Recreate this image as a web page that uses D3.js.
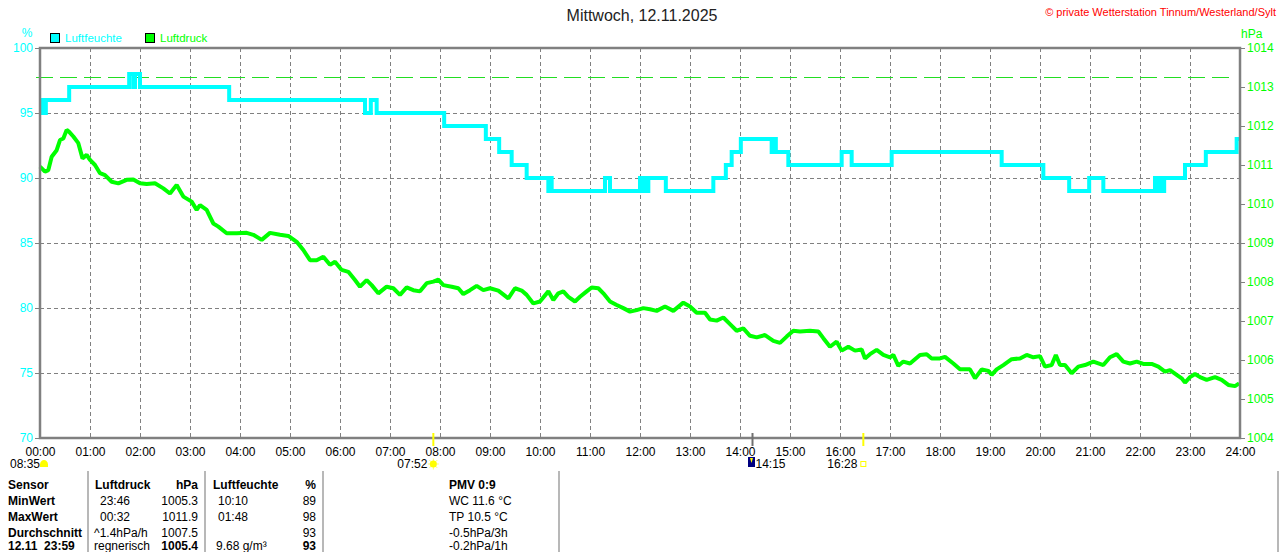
<!DOCTYPE html>
<html>
<head>
<meta charset="utf-8">
<script src="https://cdn.jsdelivr.net/npm/d3@7"></script>
<style>
  body { margin: 0; background: #fff; }
  svg { display: block; font-family: "Liberation Sans", Arial, sans-serif; }
</style>
</head>
<body>
<svg id="drawing_region"></svg>
<script>
// x ticks (hours)
const hourLabels = ["00:00","01:00","02:00","03:00","04:00","05:00","06:00","07:00","08:00","09:00","10:00","11:00","12:00",
                    "13:00","14:00","15:00","16:00","17:00","18:00","19:00","20:00","21:00","22:00","23:00","24:00"];
const humTicks = [70, 75, 80, 85, 90, 95, 100];
const presTicks = [1004, 1005, 1006, 1007, 1008, 1009, 1010, 1011, 1012, 1013, 1014];
const stdPressure = 1013.25;

// Luftfeuchte (%), minutes after midnight where the value changes
const humMinutes = [0, 2, 5, 7, 35, 107, 112, 114, 120, 227, 390, 397, 404, 485, 535, 551, 566, 584, 610, 612, 614,
                    678, 684, 720, 722, 725, 727, 730, 751, 808, 823, 830, 841, 878, 881, 883, 898, 962, 974, 1022,
                    1154, 1204, 1235, 1259, 1276, 1338, 1340, 1344, 1346, 1349, 1374, 1399, 1436, 1440];
const humValues  = [95, 96, 95, 96, 97, 98, 97, 98, 97, 96, 95, 96, 95, 94, 93, 92, 91, 90, 89, 90, 89,
                    90, 89, 90, 89, 90, 89, 90, 89, 90, 91, 92, 93, 92, 93, 92, 91, 92, 91, 92,
                    91, 90, 89, 90, 89, 90, 89, 90, 89, 90, 91, 92, 93, 93];

// Luftdruck (hPa)
const presMinutes = [0, 6, 10, 14, 20, 24, 28, 32, 35, 40, 46, 51, 56, 60, 66, 72, 78, 86, 94, 104, 112, 120, 128, 138,
                     148, 156, 164, 172, 182, 188, 192, 200, 208, 214, 224, 236, 248, 256, 266, 276, 288, 298, 308,
                     316, 324, 332, 340, 348, 354, 362, 370, 378, 384, 392, 398, 406, 416, 424, 432, 440, 448, 456,
                     464, 472, 478, 484, 494, 502, 508, 516, 524, 532, 540, 550, 562, 570, 578, 584, 592, 600, 610,
                     616, 622, 628, 634, 642, 648, 656, 662, 670, 676, 684, 692, 700, 708, 716, 724, 732, 740, 750,
                     760, 772, 780, 788, 798, 804, 812, 820, 828, 836, 844, 852, 860, 870, 880, 888, 896, 904, 912,
                     924, 934, 940, 948, 956, 962, 970, 978, 986, 990, 996, 1004, 1012, 1020, 1024, 1030, 1036, 1044,
                     1050, 1056, 1064, 1070, 1080, 1086, 1096, 1104, 1116, 1122, 1130, 1138, 1142, 1148, 1156, 1166,
                     1176, 1184, 1192, 1200, 1206, 1214, 1219, 1224, 1230, 1238, 1246, 1254, 1264, 1276, 1284, 1292,
                     1300, 1308, 1316, 1324, 1334, 1342, 1350, 1356, 1364, 1370, 1374, 1380, 1386, 1392, 1400, 1410,
                     1418, 1426, 1434, 1439];
const presValues  = [1010.96, 1010.83, 1010.87, 1011.21, 1011.38, 1011.64, 1011.68, 1011.9, 1011.85, 1011.73, 1011.56,
                     1011.17, 1011.26, 1011.13, 1011.0, 1010.79, 1010.74, 1010.57, 1010.53, 1010.62, 1010.63, 1010.53,
                     1010.51, 1010.53, 1010.40, 1010.27, 1010.49, 1010.19, 1010.06, 1009.85, 1009.97, 1009.85, 1009.50,
                     1009.42, 1009.25, 1009.25, 1009.26, 1009.21, 1009.08, 1009.26, 1009.21, 1009.18, 1009.03, 1008.82,
                     1008.56, 1008.56, 1008.65, 1008.44, 1008.52, 1008.31, 1008.26, 1008.05, 1007.88, 1008.05, 1007.92,
                     1007.71, 1007.88, 1007.84, 1007.67, 1007.86, 1007.79, 1007.76, 1007.97, 1008.01, 1008.06, 1007.92,
                     1007.88, 1007.84, 1007.69, 1007.79, 1007.90, 1007.79, 1007.84, 1007.78, 1007.58, 1007.84, 1007.78,
                     1007.67, 1007.45, 1007.50, 1007.76, 1007.54, 1007.71, 1007.76, 1007.62, 1007.50, 1007.62, 1007.76,
                     1007.86, 1007.84, 1007.71, 1007.50, 1007.41, 1007.33, 1007.24, 1007.28, 1007.33, 1007.30, 1007.26,
                     1007.37, 1007.26, 1007.47, 1007.37, 1007.21, 1007.21, 1007.04, 1007.01, 1007.09, 1006.92, 1006.75,
                     1006.81, 1006.62, 1006.58, 1006.64, 1006.49, 1006.44, 1006.60, 1006.75, 1006.73, 1006.75, 1006.73,
                     1006.56, 1006.34, 1006.47, 1006.24, 1006.34, 1006.24, 1006.27, 1006.04, 1006.15, 1006.26, 1006.13,
                     1006.07, 1006.13, 1005.85, 1005.96, 1005.91, 1006.02, 1006.13, 1006.15, 1006.04, 1006.04, 1006.08,
                     1005.91, 1005.76, 1005.76, 1005.53, 1005.76, 1005.72, 1005.62, 1005.76, 1005.87, 1006.02, 1006.04,
                     1006.13, 1006.07, 1006.10, 1005.83, 1005.87, 1006.13, 1005.87, 1005.87, 1005.66, 1005.83, 1005.87,
                     1005.96, 1005.87, 1006.07, 1006.15, 1005.96, 1005.91, 1005.96, 1005.90, 1005.90, 1005.83, 1005.70,
                     1005.74, 1005.62, 1005.53, 1005.42, 1005.56, 1005.64, 1005.56, 1005.49, 1005.56, 1005.49, 1005.36,
                     1005.33, 1005.40];

// markers below the time axis
const eventLabels  = ["07:52", "14:15", "16:28"];
const eventMinutes = [472, 855, 988];
const eventKinds   = ["sunrise", "now", "sunset"];

// table below the chart
const tableHeader = ["Sensor", "Luftdruck", "hPa", "Luftfeuchte", "%", "PMV 0:9"];
const rowNames    = ["MinWert", "MaxWert", "Durchschnitt", "12.11  23:59"];
const presCol1    = [" 23:46", " 00:32", "^1.4hPa/h", "regnerisch"];
const presCol2    = ["1005.3", "1011.9", "1007.5", "1005.4"];
const humCol1     = [" 10:10", " 01:48", "", "9.68 g/m\u00b3"];
const humCol2     = ["89", "98", "93", "93"];
const extraCol    = ["WC 11.6 \u00b0C", "TP 10.5 \u00b0C", "-0.5hPa/3h", "-0.2hPa/1h"];

class WeatherChart {
    constructor(config) {
        this.config = config;
        this.init();
    }

    init() {
        let self = this;
        const c = self.config;
        self.svg = d3.select(c.parent).attr('width', c.width).attr('height', c.height);

        self.xScale = d3.scaleLinear().domain([0, 1440]).range([c.left, c.right]);
        self.yHum = d3.scaleLinear().domain([70, 100]).range([c.bottom, c.top]);
        self.yPres = d3.scaleLinear().domain([1004, 1014]).range([c.bottom, c.top]);
    }

    render() {
        let self = this;
        const c = self.config;
        const svg = self.svg;
        const gray = '#808080';

        // title & credit
        svg.append('text').attr('x', 642).attr('y', 21).attr('text-anchor', 'middle')
            .style('font-size', '16px').attr('fill', '#222').text('Mittwoch, 12.11.2025');
        svg.append('text').attr('x', 1276).attr('y', 16).attr('text-anchor', 'end')
            .style('font-size', '11px').attr('fill', '#ff0000')
            .text('\u00a9 private Wetterstation Tinnum/Westerland/Sylt');

        // units
        svg.append('text').attr('x', 27).attr('y', 37).attr('text-anchor', 'middle')
            .style('font-size', '12px').attr('fill', '#00ffff').text('%');
        svg.append('text').attr('x', 1241).attr('y', 38)
            .style('font-size', '12px').attr('fill', '#00ff00').text('hPa');

        // legend
        const legend = [{name: 'Luftfeuchte', color: '#00ffff', x: 50}, {name: 'Luftdruck', color: '#00ff00', x: 145}];
        legend.forEach(d => {
            svg.append('rect').attr('x', d.x + 0.5).attr('y', 33.5).attr('width', 9).attr('height', 9)
                .attr('fill', d.color).attr('stroke', '#000');
            svg.append('text').attr('x', d.x + 15).attr('y', 42).style('font-size', '11.5px')
                .attr('fill', d.color).text(d.name);
        });

        // grid
        const grid = svg.append('g');
        grid.selectAll('line.v').data(d3.range(1, hourLabels.length - 1)).join('line')
            .attr('x1', i => self.xScale(i * 60)).attr('x2', i => self.xScale(i * 60))
            .attr('y1', c.top).attr('y2', c.bottom);
        grid.selectAll('line.h').data(humTicks.slice(1, -1)).join('line')
            .attr('x1', c.left).attr('x2', c.right)
            .attr('y1', d => self.yHum(d)).attr('y2', d => self.yHum(d));
        grid.selectAll('line').attr('stroke', gray).attr('stroke-width', 1).attr('stroke-dasharray', '4,3')
            .attr('shape-rendering', 'crispEdges');

        // standard pressure reference
        const yStd = Math.round(self.yPres(stdPressure)) + 0.5;
        svg.append('line').attr('x1', 36).attr('x2', 1236)
            .attr('y1', yStd).attr('y2', yStd)
            .attr('stroke', '#22dd22').attr('stroke-width', 1).attr('stroke-dasharray', '17,7')
            .attr('shape-rendering', 'crispEdges');

        // humidity (step line)
        const humLine = d3.line()
            .x((d, i) => self.xScale(humMinutes[i]))
            .y(d => self.yHum(d))
            .curve(d3.curveStepAfter);
        svg.append('path').attr('d', humLine(humValues)).attr('fill', 'none')
            .attr('stroke', '#00ffff').attr('stroke-width', 4);

        // pressure
        const presLine = d3.line()
            .x((d, i) => self.xScale(presMinutes[i]))
            .y(d => self.yPres(d));
        svg.append('path').attr('d', presLine(presValues)).attr('fill', 'none')
            .attr('stroke', '#00ff00').attr('stroke-width', 4).attr('stroke-linejoin', 'bevel');

        // axes
        const leftAxis = svg.append('g').attr('transform', `translate(${c.left},0)`)
            .call(d3.axisLeft(self.yHum).tickValues(humTicks).tickSize(5).tickPadding(2));
        leftAxis.selectAll('text').attr('fill', '#00ffff').style('font-size', '12px');

        const rightAxis = svg.append('g').attr('transform', `translate(${c.right},0)`)
            .call(d3.axisRight(self.yPres).tickValues(presTicks).tickFormat(d3.format('d')).tickSize(5).tickPadding(2));
        rightAxis.selectAll('text').attr('fill', '#00ff00').style('font-size', '12px');

        const bottomAxis = svg.append('g').attr('transform', `translate(0,${c.bottom})`)
            .call(d3.axisBottom(self.xScale).tickValues(d3.range(hourLabels.length).map(i => i * 60))
                .tickFormat((d, i) => hourLabels[i]).tickSize(0).tickPadding(9));
        bottomAxis.selectAll('text').attr('fill', '#000').style('font-size', '12px');

        [leftAxis, rightAxis, bottomAxis].forEach(a => {
            a.select('.domain').remove();
            a.selectAll('.tick line').attr('stroke', gray);
        });

        // frame
        svg.append('rect').attr('x', c.left).attr('y', c.top)
            .attr('width', c.right - c.left).attr('height', c.bottom - c.top)
            .attr('fill', 'none').attr('stroke', gray).attr('stroke-width', 2.5);

        // event markers
        eventMinutes.forEach((m, i) => {
            const x = self.xScale(m);
            const kind = eventKinds[i];
            svg.append('line').attr('x1', x).attr('x2', x).attr('y1', c.bottom - 5).attr('y2', c.bottom + 8)
                .attr('stroke', kind === 'now' ? '#707070' : '#ffff00').attr('stroke-width', 2);
            if (kind === 'sunrise') {
                svg.append('text').attr('x', x - 6).attr('y', 468).attr('text-anchor', 'end')
                    .style('font-size', '12px').text(eventLabels[i]);
                const sun = svg.append('g').attr('transform', `translate(${x},464)`);
                d3.range(8).forEach(k => {
                    const a = k * Math.PI / 4;
                    sun.append('line').attr('x1', Math.cos(a) * 3).attr('y1', Math.sin(a) * 3)
                        .attr('x2', Math.cos(a) * 5.5).attr('y2', Math.sin(a) * 5.5)
                        .attr('stroke', '#ffff66').attr('stroke-width', 1);
                });
                sun.append('circle').attr('r', 3.5).attr('fill', '#ffff00');
            } else if (kind === 'now') {
                svg.append('rect').attr('x', x - 4.5).attr('y', 457).attr('width', 7).attr('height', 10)
                    .attr('fill', '#000080');
                svg.append('path').attr('d', `M${x - 2.5},458 L${x + 0.5},458 L${x - 1},463 Z`).attr('fill', '#ffff00');
                svg.append('text').attr('x', x + 3).attr('y', 468)
                    .style('font-size', '12px').text(eventLabels[i]);
            } else {
                svg.append('text').attr('x', x - 6).attr('y', 468).attr('text-anchor', 'end')
                    .style('font-size', '12px').text(eventLabels[i]);
                svg.append('rect').attr('x', x - 2.5).attr('y', 461.5).attr('width', 5).attr('height', 5)
                    .attr('fill', 'none').attr('stroke', '#ffff00');
            }
        });

        // 08:35 with cloud
        svg.append('text').attr('x', 10).attr('y', 468).style('font-size', '12px').text('08:35');
        svg.append('path').attr('d', 'M40,467 L40,464 Q41,460 44,460 Q47,460 48,464 L48,467 Z').attr('fill', '#ffff00');

        // table
        self.renderTable();
    }

    renderTable() {
        let self = this;
        const svg = self.svg;
        const rowY = [489, 505, 521, 537, 550];

        [88, 205, 323, 559, 1278].forEach(x => {
            svg.append('line').attr('x1', x).attr('x2', x).attr('y1', 471).attr('y2', 552)
                .attr('stroke', '#a0a0a0').attr('stroke-width', 1.5);
        });

        const t = (x, y, s, bold, anchor) => svg.append('text').attr('x', x).attr('y', y)
            .attr('text-anchor', anchor || 'start').style('font-size', '12px')
            .style('font-weight', bold ? 'bold' : 'normal').attr('fill', '#000').text(s);

        t(8, rowY[0], tableHeader[0], true);
        t(95, rowY[0], tableHeader[1], true);
        t(198, rowY[0], tableHeader[2], true, 'end');
        t(213, rowY[0], tableHeader[3], true);
        t(316, rowY[0], tableHeader[4], true, 'end');
        t(449, rowY[0], tableHeader[5], true);

        rowNames.forEach((name, i) => {
            const y = rowY[i + 1];
            const last = i === rowNames.length - 1;
            t(8, y, name, true).style('white-space', 'pre');
            t(presCol1[i].startsWith(' ') ? 100 : 94, y, presCol1[i].trim(), false);
            t(198, y, presCol2[i], last, 'end');
            t(humCol1[i].startsWith(' ') ? 218 : 216, y, humCol1[i].trim(), false);
            t(316, y, humCol2[i], last, 'end');
            t(449, y, extraCol[i], false);
        });
    }
}

const config = {
    parent: '#drawing_region',
    width: 1280,
    height: 552,
    left: 40, right: 1240, top: 48, bottom: 438
};

const chart = new WeatherChart(config);
chart.render();
</script>
</body>
</html>
